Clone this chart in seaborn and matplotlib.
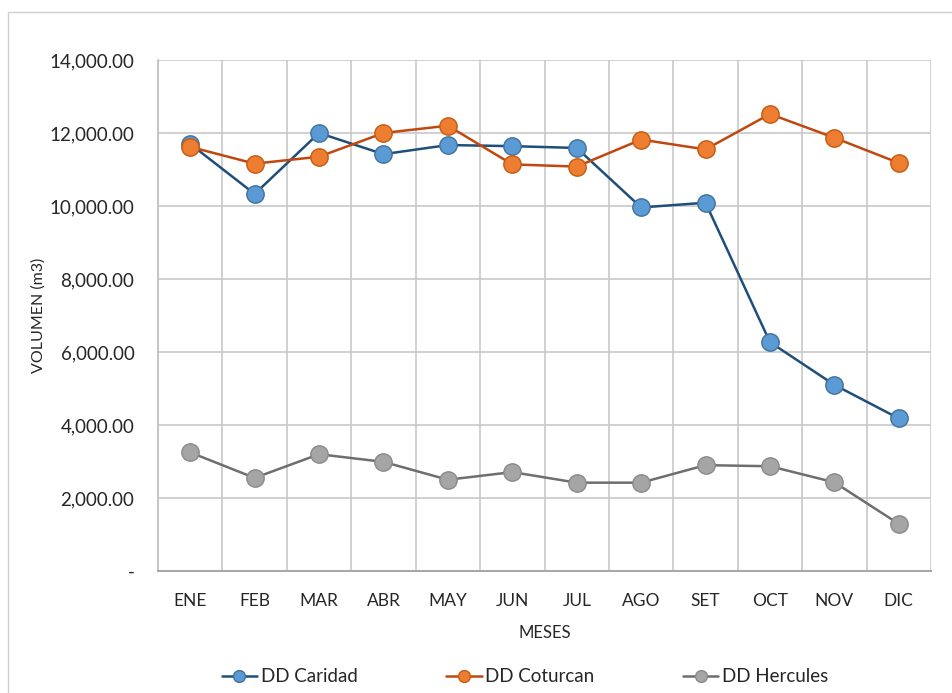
import matplotlib
matplotlib.use("Agg")
import matplotlib.pyplot as plt
from matplotlib.patches import Rectangle
from matplotlib.lines import Line2D
from matplotlib.ticker import FuncFormatter, MultipleLocator, FixedLocator
import seaborn as sns
import pandas as pd

meses = ["ENE", "FEB", "MAR", "ABR", "MAY", "JUN", "JUL", "AGO", "SET", "OCT", "NOV", "DIC"]
caridad = [11700, 10330, 12000, 11420, 11670, 11640, 11590, 9960, 10090, 6270, 5100, 4180]
coturcan = [11620, 11160, 11350, 12000, 12200, 11140, 11080, 11820, 11550, 12520, 11870, 11180]
hercules = [3250, 2550, 3200, 2990, 2500, 2710, 2420, 2420, 2900, 2870, 2430, 1290]

series = [
    ("DD Caridad", caridad, "#1F4E79", "#5B9BD5", "#41719C"),
    ("DD Coturcan", coturcan, "#C0470E", "#ED7D31", "#C55A11"),
    ("DD Hercules", hercules, "#6E6E6E", "#A5A5A5", "#8A8A8A"),
]

sns.set_theme(style="white")
plt.rcParams["font.family"] = ["Lato", "DejaVu Sans"]

W, H = 952, 693
fig = plt.figure(figsize=(W / 100, H / 100), dpi=100)
left, right, top, bottom = 158, 931, 60, 571
ax = fig.add_axes([left / W, 1 - bottom / H, (right - left) / W, (bottom - top) / H])

# chart-area border (open towards the right and bottom edges)
fig.patches.append(Rectangle((8 / W, -0.05), 1.0, 1.05 - 12 / H,
                             transform=fig.transFigure, fill=False,
                             edgecolor="#D0D0D0", linewidth=1.0))

handles = []
for name, vals, lc, fc, ec in series:
    df = pd.DataFrame({"mes": range(len(meses)), "vol": vals})
    sns.lineplot(data=df, x="mes", y="vol", ax=ax, color=lc, linewidth=1.8,
                 marker="o", markersize=12.5, markerfacecolor=fc,
                 markeredgecolor=ec, markeredgewidth=1.0, zorder=3)
    handles.append(Line2D([0], [0], color=lc, linewidth=1.8, marker="o",
                          markersize=8.5, markerfacecolor=fc,
                          markeredgecolor=ec, markeredgewidth=1.0, label=name))

ax.set_xlim(-0.5, len(meses) - 0.5)
ax.set_ylim(0, 14000)
ax.yaxis.set_major_locator(MultipleLocator(2000))
ax.yaxis.set_major_formatter(FuncFormatter(lambda v, p: "-" if v == 0 else f"{v:,.2f}"))
ax.set_xticks(range(len(meses)))
ax.set_xticklabels(meses)
ax.xaxis.set_minor_locator(FixedLocator([i - 0.5 for i in range(len(meses) + 1)]))

ax.grid(which="major", axis="y", color="#C8C8C8", linewidth=1.2)
ax.grid(which="minor", axis="x", color="#C8C8C8", linewidth=1.2)
ax.set_axisbelow(True)
for side in ["top", "right"]:
    ax.spines[side].set_visible(False)
ax.spines["left"].set_color("#BFBFBF")
ax.spines["bottom"].set_color("#A6A6A6")
ax.spines["left"].set_linewidth(1.2)
ax.spines["bottom"].set_linewidth(1.4)
ax.tick_params(axis="both", which="both", length=0, colors="#262626")
ax.tick_params(axis="x", labelsize=12.5, pad=16)
ax.tick_params(axis="y", labelsize=13.5, pad=17)

ax.set_xlabel("MESES", fontsize=12, color="#262626", labelpad=11)
ax.set_ylabel("VOLUMEN (m3)", fontsize=11.5, color="#262626", labelpad=3)

fig.legend(handles=handles, loc="center", bbox_to_anchor=(525 / W, 1 - 677 / H),
           ncol=3, frameon=False, fontsize=13.5, handlelength=1.9,
           handletextpad=0.2, columnspacing=4.7, labelcolor="#262626")

fig.savefig("out.png", dpi=100, facecolor="white")
